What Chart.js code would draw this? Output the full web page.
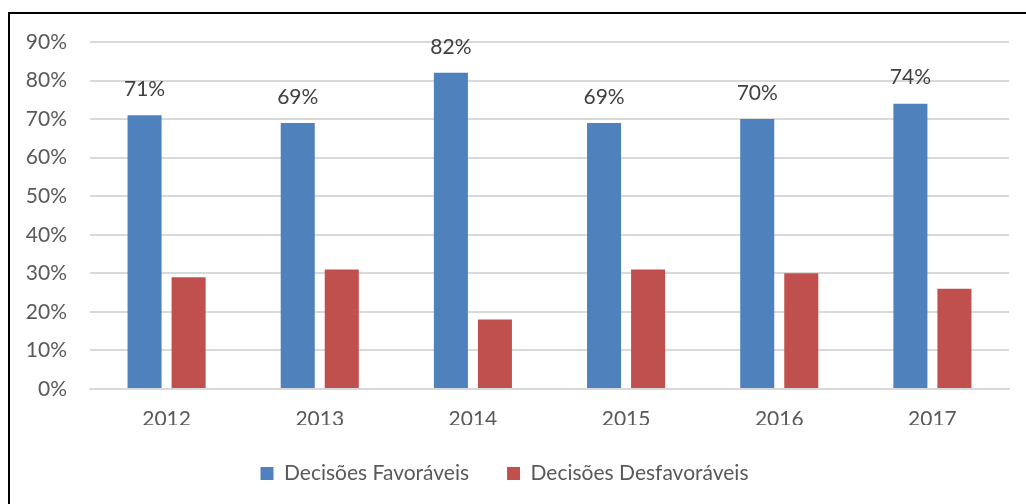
<!DOCTYPE html>
<html>
<head>
<meta charset="utf-8">
<script src="https://cdn.jsdelivr.net/npm/chart.js@4.4.0/dist/chart.umd.min.js"></script>
<style>
  html, body { margin: 0; padding: 0; background: #fff; overflow: hidden; }
  #frame {
    position: absolute; left: 8px; top: 12px;
    width: 1100px; height: 600px;
    border-top: 2px solid #000; border-left: 2px solid #000;
  }
  #wrap { position: absolute; left: 0; top: 0; width: 1026px; height: 504px; }
</style>
</head>
<body>
<div id="frame"></div>
<div id="wrap"><canvas id="decisoesChart"></canvas></div>
<script>
// Anos e percentuais de decisões
const anos = ["2012", "2013", "2014", "2015", "2016", "2017"];
const favoraveis = [71, 69, 82, 69, 70, 74];
const desfavoraveis = [29, 31, 18, 31, 30, 26];
const yTicks = [0, 10, 20, 30, 40, 50, 60, 70, 80, 90];

const fontFamily = "Lato, 'Open Sans', sans-serif";
const fontSize = 21;
const textColor = "#595959";

// Rótulos de valor acima das barras azuis
const valueLabels = {
    id: "valueLabels",
    afterDatasetsDraw(chart) {
        const ctx = chart.ctx;
        const meta = chart.getDatasetMeta(0);
        ctx.save();
        ctx.font = fontSize + "px " + fontFamily;
        ctx.fillStyle = "#404040";
        ctx.textAlign = "center";
        ctx.textBaseline = "middle";
        meta.data.forEach((bar, i) => {
            ctx.fillText(favoraveis[i] + "%", bar.x, bar.y - 26);
        });
        ctx.restore();
    }
};

const ctx = document.getElementById("decisoesChart").getContext("2d");
new Chart(ctx, {
    type: "bar",
    data: {
        labels: anos,
        datasets: [{
            label: "Decisões Favoráveis",
            data: favoraveis,
            backgroundColor: "#4f81bd",
            barPercentage: 0.773,
            categoryPercentage: 0.575
        }, {
            label: "Decisões Desfavoráveis",
            data: desfavoraveis,
            backgroundColor: "#c0504d",
            barPercentage: 0.773,
            categoryPercentage: 0.575
        }]
    },
    options: {
        responsive: true,
        maintainAspectRatio: false,
        animation: false,
        layout: { padding: { top: 42, right: 17, bottom: 10, left: 0 } },
        plugins: {
            tooltip: { enabled: false },
            legend: {
                position: "bottom",
                labels: {
                    color: textColor,
                    font: { family: fontFamily, size: fontSize },
                    boxWidth: 13,
                    boxHeight: 13,
                    padding: 38
                }
            }
        },
        scales: {
            x: {
                afterFit(scale) { scale.height = 36; },
                grid: { display: false, drawTicks: false },
                border: { display: true, color: "#d9d9d9", width: 2 },
                ticks: {
                    color: textColor,
                    font: { family: fontFamily, size: fontSize },
                    padding: 18
                }
            },
            y: {
                min: 0,
                max: 90,
                afterFit(scale) { scale.width = 90; },
                afterBuildTicks(scale) { scale.ticks = yTicks.map(v => ({ value: v })); },
                grid: { color: "#d9d9d9", lineWidth: 2, drawTicks: false, tickLength: 0 },
                border: { display: false },
                ticks: {
                    color: textColor,
                    font: { family: fontFamily, size: fontSize },
                    padding: 23,
                    callback: v => v + "%"
                }
            }
        }
    },
    plugins: [valueLabels]
});
</script>
</body>
</html>
